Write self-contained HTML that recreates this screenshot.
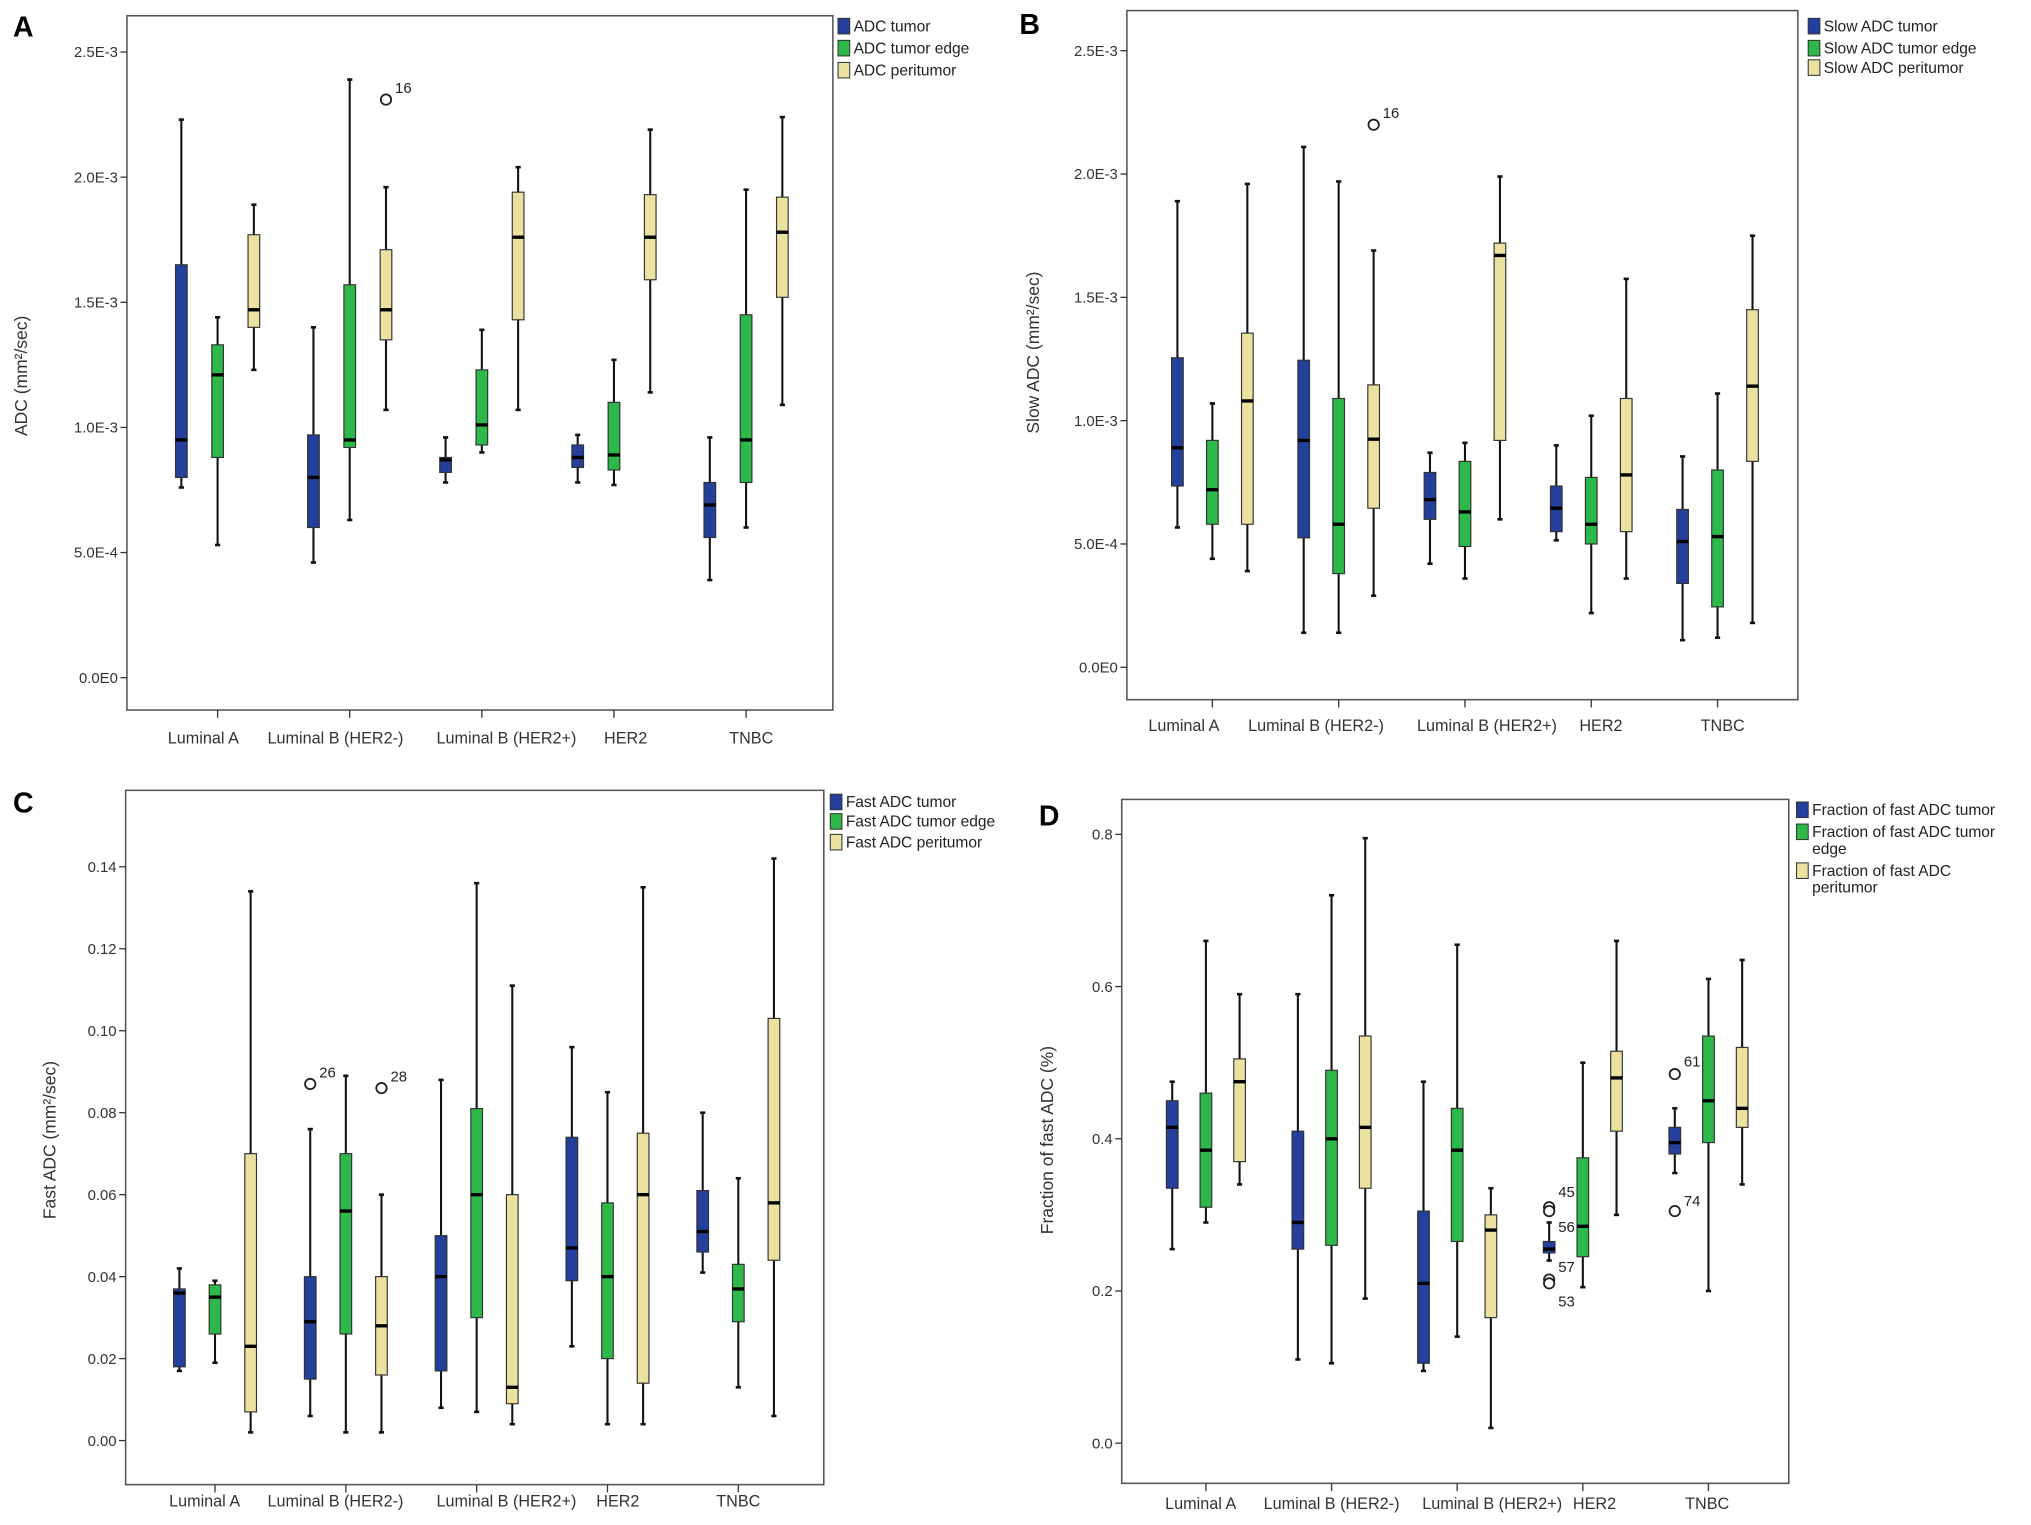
<!DOCTYPE html>
<html><head><meta charset="utf-8"><style>
html,body{margin:0;padding:0;background:#fff;}
svg{display:block;font-family:"Liberation Sans",Arial,sans-serif;}
</style></head><body>
<svg id="fig" width="2031" height="1525" viewBox="0 0 1568 1177" xmlns="http://www.w3.org/2000/svg"></svg>
<script>
const categories = ["Luminal A","Luminal B (HER2-)","Luminal B (HER2+)","HER2","TNBC"];
// Panel A (x1e-3) [min,q1,med,q3,max]
const aTumor = [[.76,.80,.95,1.65,2.23],[.46,.60,.80,.97,1.40],[.78,.82,.87,.88,.96],[.78,.84,.88,.93,.97],[.39,.56,.69,.78,.96]];
const aEdge = [[.53,.88,1.21,1.33,1.44],[.63,.92,.95,1.57,2.39],[.90,.93,1.01,1.23,1.39],[.77,.83,.89,1.10,1.27],[.60,.78,.95,1.45,1.95]];
const aPeri = [[1.23,1.40,1.47,1.77,1.89],[1.07,1.35,1.47,1.71,1.96],[1.07,1.43,1.76,1.94,2.04],[1.14,1.59,1.76,1.93,2.19],[1.09,1.52,1.78,1.92,2.24]];
const aOutliers = [[1,2,2.31,"16",-5]];
const aTicks = [0,0.5,1.0,1.5,2.0,2.5];
const aTickLabels = ["0.0E0","5.0E-4","1.0E-3","1.5E-3","2.0E-3","2.5E-3"];
// Panel B (x1e-3)
const bTumor = [[.567,.735,.89,1.255,1.89],[.14,.525,.92,1.245,2.11],[.42,.60,.68,.79,.87],[.515,.55,.645,.735,.90],[.11,.34,.51,.64,.855]];
const bEdge = [[.44,.58,.72,.92,1.07],[.14,.38,.58,1.09,1.97],[.36,.49,.63,.835,.91],[.22,.50,.58,.77,1.02],[.12,.245,.53,.80,1.11]];
const bPeri = [[.39,.58,1.08,1.355,1.96],[.29,.645,.925,1.145,1.69],[.60,.92,1.67,1.72,1.99],[.36,.55,.78,1.09,1.575],[.18,.835,1.14,1.45,1.75]];
const bOutliers = [[1,2,2.2,"16",-5]];
const bTicks = [0,0.5,1.0,1.5,2.0,2.5];
const bTickLabels = ["0.0E0","5.0E-4","1.0E-3","1.5E-3","2.0E-3","2.5E-3"];
// Panel C
const cTumor = [[.017,.018,.036,.037,.042],[.006,.015,.029,.040,.076],[.008,.017,.040,.050,.088],[.023,.039,.047,.074,.096],[.041,.046,.051,.061,.080]];
const cEdge = [[.019,.026,.035,.038,.039],[.002,.026,.056,.070,.089],[.007,.030,.060,.081,.136],[.004,.020,.040,.058,.085],[.013,.029,.037,.043,.064]];
const cPeri = [[.002,.007,.023,.070,.134],[.002,.016,.028,.040,.060],[.004,.009,.013,.060,.111],[.004,.014,.060,.075,.135],[.006,.044,.058,.103,.142]];
const cOutliers = [[1,0,.087,"26",-5],[1,2,.086,"28",-5]];
const cTicks = [0,.02,.04,.06,.08,.10,.12,.14];
const cTickLabels = ["0.00","0.02","0.04","0.06","0.08","0.10","0.12","0.14"];
// Panel D
const dTumor = [[.255,.335,.415,.45,.475],[.11,.255,.29,.41,.59],[.095,.105,.21,.305,.475],[.24,.25,.255,.265,.29],[.355,.38,.395,.415,.44]];
const dEdge = [[.29,.31,.385,.46,.66],[.105,.26,.40,.49,.72],[.14,.265,.385,.44,.655],[.205,.245,.285,.375,.50],[.20,.395,.45,.535,.61]];
const dPeri = [[.34,.37,.475,.505,.59],[.19,.335,.415,.535,.795],[.02,.165,.28,.30,.335],[.30,.41,.48,.515,.66],[.34,.415,.44,.52,.635]];
const dOutliers = [[3,0,.31,"45",-8],[3,0,.305,"56",16],[3,0,.215,"57",-6],[3,0,.21,"53",18],[4,0,.485,"61",-6],[4,0,.305,"74",-4]];
const dTicks = [0,.2,.4,.6,.8];
const dTickLabels = ["0.0","0.2","0.4","0.6","0.8"];

const COLORS = ["#24409c","#2db84a","#ebe2a2"];
const NS = "http://www.w3.org/2000/svg";
const svg = document.getElementById("fig");
function mk(tag, attrs, parent, text){
  const e = document.createElementNS(NS, tag);
  for (const k in attrs) e.setAttribute(k, attrs[k]);
  if (text !== undefined) e.textContent = text;
  (parent||svg).appendChild(e);
  return e;
}

function panel(cfg){
  const g = mk("g", {});
  
  
  const L=cfg.box[0], T=cfg.box[1], R=cfg.box[2], B=cfg.box[3];
  const y = v => cfg.y0 + (cfg.y1 - cfg.y0) * (v - cfg.v0) / (cfg.v1 - cfg.v0);
  const x = i => cfg.cx0 + i * cfg.step;
  const lab = mk("text", {x:cfg.letter[0], y:cfg.letter[1], "font-size":22, "font-weight":"bold", fill:"#000"}, g, cfg.id.slice(-1).toUpperCase());
  
  
  const frame = mk("rect", {x:L, y:T, width:R-L, height:B-T, fill:"none", stroke:"#555", "stroke-width":1.2}, g);
  
  
  cfg.ticks.forEach((t, i) => {
    const yy = y(t);
    mk("line", {x1:L-5, x2:L, y1:yy, y2:yy, stroke:"#333", "stroke-width":1}, g);
    const tx = mk("text", {x:L-7, y:yy+4, "font-size":11.5, fill:"#333", "text-anchor":"end"}, g, cfg.tickLabels[i]);
    
    
  });
  const yt = mk("text", {x:0, y:0, "font-size":13.5, fill:"#333", "text-anchor":"middle", transform:`translate(${cfg.ytitle[0]},${cfg.ytitle[1]}) rotate(-90)`}, g, cfg.ytitleText);
  
  
  categories.forEach((c, i) => {
    mk("line", {x1:x(i), x2:x(i), y1:B, y2:B+6, stroke:"#333", "stroke-width":1}, g);
    const t = mk("text", {x:cfg.xlab[i], y:B+cfg.xlabDy, "font-size":12.5, fill:"#333", "text-anchor":"middle"}, g, c);
    
    
  });
  const bw = 9, off = cfg.off;
  cfg.series.forEach((s, si) => {
    s.forEach((d, ci) => {
      const cx = x(ci) + (si - 1) * off;
      const bg = mk("g", {}, g);
      
      
      mk("line", {x1:cx, x2:cx, y1:y(d[0]), y2:y(d[4]), stroke:"#111", "stroke-width":1.6}, bg);
      mk("line", {x1:cx-2, x2:cx+2, y1:y(d[0]), y2:y(d[0]), stroke:"#111", "stroke-width":2}, bg);
      mk("line", {x1:cx-2, x2:cx+2, y1:y(d[4]), y2:y(d[4]), stroke:"#111", "stroke-width":2}, bg);
      mk("rect", {x:cx-bw/2, y:y(d[3]), width:bw, height:Math.max(1, y(d[1])-y(d[3])), fill:COLORS[si], stroke:"#333", "stroke-width":0.9}, bg);
      mk("line", {x1:cx-bw/2, x2:cx+bw/2, y1:y(d[2]), y2:y(d[2]), stroke:"#000", "stroke-width":2.6}, bg);
    });
  });
  cfg.outliers.forEach(o => {
    const cx = x(o[0]) + (o[1] - 1) * off, cy = y(o[2]);
    const c = mk("circle", {cx:cx, cy:cy, r:4, fill:"#fff", stroke:"#222", "stroke-width":1.4}, g);
    
    
    mk("text", {x:cx+7, y:cy + o[4], "font-size":11.5, fill:"#222"}, g, o[3]);
  });
  cfg.legend.forEach((lines, i) => {
    const ly = cfg.legY[i];
    const lg = mk("g", {}, g);
    
    
    mk("rect", {x:cfg.legX, y:ly, width:9, height:12, fill:COLORS[i], stroke:"#333", "stroke-width":0.8}, lg);
    lines.forEach((ln, k) => mk("text", {x:cfg.legX+12, y:ly+10+k*13, "font-size":12, fill:"#222"}, lg, ln));
  });
}

panel({id:"panel-a", letter:[10,28], box:[98,12,643,548], v0:0, v1:2.5, y0:523, y1:40,
  cx0:168, step:102, off:28, ticks:aTicks, tickLabels:aTickLabels,
  ytitle:[21,290], ytitleText:"ADC (mm²/sec)", xlab:[157,259,391,483,580], xlabDy:26,
  series:[aTumor,aEdge,aPeri], outliers:aOutliers,
  legX:647, legY:[14,31,48], legend:[["ADC tumor"],["ADC tumor edge"],["ADC peritumor"]]});
panel({id:"panel-b", letter:[787,26], box:[870,8,1388,540], v0:0, v1:2.5, y0:515, y1:39,
  cx0:936, step:97.5, off:27, ticks:bTicks, tickLabels:bTickLabels,
  ytitle:[802,272], ytitleText:"Slow ADC (mm²/sec)", xlab:[914,1016,1148,1236,1330], xlabDy:24,
  series:[bTumor,bEdge,bPeri], outliers:bOutliers,
  legX:1396, legY:[14,31,46], legend:[["Slow ADC tumor"],["Slow ADC tumor edge"],["Slow ADC peritumor"]]});
panel({id:"panel-c", letter:[10,627], box:[97,610,636,1146], v0:0, v1:0.14, y0:1112, y1:669,
  cx0:166, step:101, off:27.5, ticks:cTicks, tickLabels:cTickLabels,
  ytitle:[43,880], ytitleText:"Fast ADC (mm²/sec)", xlab:[158,259,391,477,570], xlabDy:17,
  series:[cTumor,cEdge,cPeri], outliers:cOutliers,
  legX:641, legY:[613,628,644], legend:[["Fast ADC tumor"],["Fast ADC tumor edge"],["Fast ADC peritumor"]]});
panel({id:"panel-d", letter:[802,637], box:[866,617,1381,1145], v0:0, v1:0.8, y0:1114, y1:644,
  cx0:931, step:97, off:26, ticks:dTicks, tickLabels:dTickLabels,
  ytitle:[813,880], ytitleText:"Fraction of fast ADC (%)", xlab:[927,1028,1152,1231,1318], xlabDy:20,
  series:[dTumor,dEdge,dPeri], outliers:dOutliers,
  legX:1387, legY:[619,636,666], legend:[["Fraction of fast ADC tumor"],["Fraction of fast ADC tumor","edge"],["Fraction of fast ADC","peritumor"]]});
</script>
</body></html>
